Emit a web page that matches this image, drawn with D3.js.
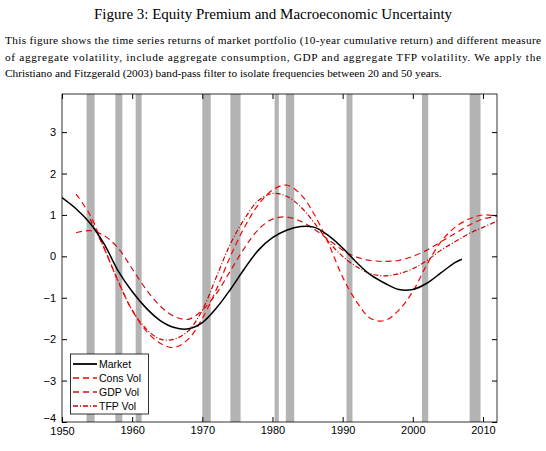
<!DOCTYPE html><html><head><meta charset="utf-8"><script src="https://cdn.jsdelivr.net/npm/d3@7"></script>
<style>body{margin:0;background:#fff}</style></head><body><svg id="c" width="546" height="451"></svg><script>
const years=[1950,1952,1954,1956,1958,1960,1962,1964,1966,1968,1970,1972,1974,1976,1978,1980,1982,1984,1986,1988,1990,1992,1994,1996,1998,2000,2002,2004,2006,2008,2010,2012];
const market=[1.42,1.15,0.8,0.3,-0.35,-0.85,-1.25,-1.55,-1.72,-1.75,-1.6,-1.25,-0.8,-0.3,0.15,0.45,0.63,0.72,0.7,0.5,0.2,-0.15,-0.45,-0.65,-0.8,-0.8,-0.65,-0.4,-0.15,null,null,null];
const consVol=[null,1.5,1.0,0.2,-0.6,-1.3,-1.8,-2.1,-2.2,-2.0,-1.5,-0.8,0.0,0.7,1.25,1.6,1.72,1.5,1.0,0.3,-0.5,-1.1,-1.5,-1.55,-1.3,-0.85,-0.2,0.35,0.7,0.9,1.0,0.97];
const gdpVol=[null,0.57,0.62,0.5,0.2,-0.3,-0.8,-1.2,-1.45,-1.52,-1.3,-0.9,-0.35,0.2,0.65,0.9,0.95,0.85,0.65,0.4,0.15,-0.02,-0.1,-0.12,-0.1,0.0,0.15,0.35,0.55,0.75,0.9,0.97];
const tfpVol=[null,null,0.9,0.2,-0.6,-1.3,-1.75,-2.0,-2.0,-1.8,-1.3,-0.5,0.3,0.9,1.35,1.52,1.45,1.2,0.8,0.35,0.0,-0.25,-0.42,-0.47,-0.42,-0.3,-0.1,0.15,0.35,0.55,0.7,0.85];
const marketLast=[2007,-0.07];
const recessions=[[1953.5,1954.65],[1957.6,1958.6],[1960.5,1961.35],[1970.0,1971.2],[1974.0,1975.45],[1980.3,1980.9],[1981.9,1983.1],[1990.55,1991.4],[2001.3,2002.2],[2008.1,2009.65]];
const xTicks=[1950,1960,1970,1980,1990,2000,2010];
const yTicks=[-4,-3,-2,-1,0,1,2,3];
const title="Figure 3: Equity Premium and Macroeconomic Uncertainty";
const desc=["This figure shows the time series returns of market portfolio (10-year cumulative return) and different measure","of aggregate volatility, include aggregate consumption, GDP and aggregate TFP volatility.  We apply the","Christiano and Fitzgerald (2003) band-pass filter to isolate frequencies between 20 and 50 years."];
const svg=d3.select("#c");
const L=62,R=497,T=94,B=422;
const x=d3.scaleLinear().domain([1950,2012]).range([L,R]);
const y=d3.scaleLinear().domain([-4,3.92]).range([B,T]);
svg.append("text").attr("x",273).attr("y",19).attr("text-anchor","middle").attr("font-family","Liberation Serif").attr("font-size",15).text(title);
desc.forEach((t,i)=>{const el=svg.append("text").attr("x",5).attr("y",44+i*16.5).attr("font-family","Liberation Serif").attr("font-size",11.3).text(t);
 if(i<2){el.attr("textLength",536).attr("lengthAdjust","spacing");}});
const g=svg.append("g");
recessions.forEach(r=>g.append("rect").attr("x",x(r[0])).attr("y",T).attr("width",x(r[1])-x(r[0])).attr("height",B-T).attr("fill","#b3b3b3"));
const mk=(arr,extra)=>{const p=years.map((yr,i)=>[yr,arr[i]]).filter(d=>d[1]!=null);if(extra)p.push(extra);return p;};
const line=d3.line().x(d=>x(d[0])).y(d=>y(d[1])).curve(d3.curveCatmullRom);
const series=[
 {name:"Market",pts:mk(market,marketLast),c:"#000",d:null,w:1.5},
 {name:"Cons Vol",pts:mk(consVol),c:"#ff0000",d:"6,4",w:1.2},
 {name:"GDP Vol",pts:mk(gdpVol),c:"#d01010",d:"6,4",w:1.2},
 {name:"TFP Vol",pts:mk(tfpVol),c:"#cc0000",d:"5,2,1,2",w:1.2}];
svg.append("clipPath").attr("id","cl").append("rect").attr("x",L).attr("y",T).attr("width",R-L).attr("height",B-T);
series.slice().reverse().forEach(s=>svg.append("path").attr("clip-path","url(#cl)").attr("d",line(s.pts)).attr("fill","none").attr("stroke",s.c).attr("stroke-width",s.w).attr("stroke-dasharray",s.d));
svg.append("rect").attr("x",L).attr("y",T).attr("width",R-L).attr("height",B-T).attr("fill","none").attr("stroke","#000").attr("stroke-width",0.8);
const xa=svg.append("g").attr("transform",`translate(0,${B})`).call(d3.axisBottom(x).tickValues(xTicks).tickFormat(d3.format("d")).tickSizeInner(-5).tickSizeOuter(0).tickPadding(4));
const xt=svg.append("g").attr("transform",`translate(0,${T})`).call(d3.axisTop(x).tickValues(xTicks).tickFormat("").tickSizeInner(-5).tickSizeOuter(0));
const ya=svg.append("g").attr("transform",`translate(${L},0)`).call(d3.axisLeft(y).tickValues(yTicks).tickSizeInner(-5).tickSizeOuter(0).tickPadding(6));
const yr2=svg.append("g").attr("transform",`translate(${R},0)`).call(d3.axisRight(y).tickValues(yTicks).tickFormat("").tickSizeInner(-5).tickSizeOuter(0));
[xa,xt,ya,yr2].forEach(a=>{a.select(".domain").remove();a.selectAll("text").attr("font-family","Liberation Sans").attr("font-size",11).attr("fill","#000");});
ya.selectAll(".tick").filter(d=>d===-4).select("text").attr("dy","-0.05em");
xa.selectAll(".tick").filter(d=>d===1950).select("text").attr("dy","0.85em");
const lg=svg.append("g");
lg.append("rect").attr("x",70.5).attr("y",354).attr("width",78).attr("height",60).attr("fill","#fff").attr("stroke","#000").attr("stroke-width",0.8);
series.forEach((s,i)=>{const yy=364+i*14;
 lg.append("line").attr("x1",73).attr("x2",97).attr("y1",yy).attr("y2",yy).attr("stroke",s.c).attr("stroke-width",s.w+0.3).attr("stroke-dasharray",s.d);
 lg.append("text").attr("x",99).attr("y",yy+4).attr("font-family","Liberation Sans").attr("font-size",10.5).text(s.name);});
</script></body></html>
